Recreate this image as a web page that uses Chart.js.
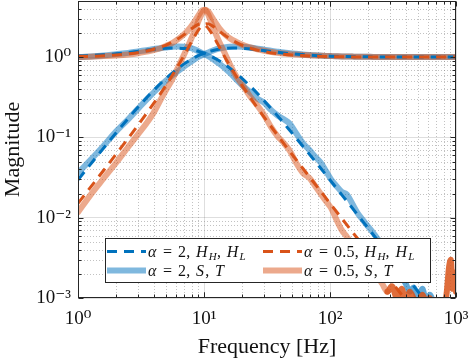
<!DOCTYPE html>
<html><head><meta charset="utf-8">
<script src="https://cdn.jsdelivr.net/npm/chart.js@4.4.0/dist/chart.umd.min.js"></script>
<style>html,body{margin:0;padding:0;background:#fff;}#wrap{width:471px;height:361px;}</style>
</head><body><div id="wrap"><canvas id="c" width="471" height="361"></canvas></div>
<script>
// ---- tick labels ----
const xTickValues = [1, 10, 100, 1000];
const xTickLabels = ['10⁰', '10¹', '10²', '10³'];
const yTickValues = [0.001, 0.01, 0.1, 1];
const yTickLabels = ['10⁻³', '10⁻²', '10⁻¹', '10⁰'];

// ---- model (dashed) curves ----
const freqModel = [1, 1.25, 1.6, 2, 2.5, 3.2, 4, 5, 6, 7, 8, 9, 9.5, 10, 10.5, 11, 12, 13, 15, 17, 20, 25, 32, 40, 50, 63, 80, 100, 125, 160, 200, 250, 320, 400, 500, 630, 800, 1000];
const hL_a2 = [1.029, 1.044, 1.068, 1.100, 1.141, 1.198, 1.250, 1.290, 1.298, 1.279, 1.238, 1.182, 1.151, 1.118, 1.084, 1.050, 0.980, 0.913, 0.787, 0.677, 0.544, 0.388, 0.256, 0.172, 0.113, 0.0729, 0.0458, 0.0296, 0.0190, 0.01165, 0.00747, 0.00479, 0.00293, 0.00187, 0.00120, 0.000756, 0.000469, 0.0003];
const hH_a2 = [0.0296, 0.0458, 0.0741, 0.1134, 0.1718, 0.2669, 0.3876, 0.5441, 0.6944, 0.8299, 0.9461, 1.0418, 1.0823, 1.118, 1.1495, 1.1768, 1.2208, 1.2524, 1.2881, 1.2989, 1.2900, 1.2503, 1.1919, 1.1413, 1.0996, 1.0670, 1.0434, 1.0286, 1.0186, 1.0115, 1.0074, 1.0048, 1.003, 1.0019, 1.0012, 1.0008, 1.0005, 1.0003];
const hL_a05 = [1.015, 1.0235, 1.0387, 1.0607, 1.0955, 1.1587, 1.2540, 1.4142, 1.6322, 1.9204, 2.2666, 2.5565, 2.6029, 2.5495, 2.4054, 2.2045, 1.7717, 1.4095, 0.9369, 0.6701, 0.4472, 0.2671, 0.1560, 0.0975, 0.0615, 0.0384, 0.0237, 0.0151, 0.00964, 0.00587, 0.00376, 0.00240, 0.00147, 0.00094, 0.0006, 0.00038, 0.00023, 0.00015];
const hH_a05 = [0.01509, 0.02366, 0.0390, 0.0615, 0.0975, 0.1641, 0.2671, 0.4472, 0.7056, 1.0742, 1.5787, 2.1561, 2.3959, 2.5495, 2.6026, 2.5716, 2.3800, 2.1576, 1.8162, 1.6030, 1.4142, 1.2540, 1.1511, 1.0955, 1.0607, 1.0381, 1.0235, 1.0150, 1.0096, 1.0059, 1.0037, 1.0024, 1.0015, 1.0009, 1.0006, 1.0004, 1.0002, 1.0002];

// ---- measured (solid) curves ----
const freqMeas = [1, 1.25, 1.6, 2, 2.5, 3, 3.5, 4, 4.5, 5, 5.6, 6.3, 7, 7.8, 8.5, 9.2, 9.7, 10.2, 10.8, 11.5, 12.3, 13.2, 14.5, 16, 18, 20, 23, 26, 30, 34, 38, 43, 48, 54, 61, 69, 76, 84, 93, 102, 112, 124, 136, 150, 165, 182, 200, 220, 240, 260, 285, 310, 340, 370, 400, 430, 460, 500, 540, 580, 620, 670, 720, 780, 840, 880, 910, 940, 970, 1000];
const T_a2 = [1.00, 1.02, 1.05, 1.09, 1.13, 1.18, 1.22, 1.26, 1.29, 1.32, 1.35, 1.36, 1.35, 1.30, 1.24, 1.17, 1.12, 1.08, 1.03, 0.97, 0.90, 0.83, 0.74, 0.64, 0.53, 0.45, 0.37, 0.31, 0.27, 0.22, 0.19, 0.168, 0.148, 0.112, 0.085, 0.069, 0.058, 0.049, 0.038, 0.030, 0.025, 0.021, 0.0195, 0.0150, 0.0115, 0.0094, 0.0078, 0.0065, 0.0054, 0.0045, 0.0037, 0.0030, 0.0024, 0.0019, 0.0015, 0.0012, 0.00135, 0.0010, 0.0013, 0.0009, 0.0011, 0.0008, 0.0007, 0.0006, 0.0005, 0.0005, 0.0004, 0.0004, 0.0004, 0.0004];
const S_a2 = [0.036, 0.052, 0.079, 0.118, 0.168, 0.228, 0.295, 0.365, 0.44, 0.51, 0.59, 0.68, 0.77, 0.87, 0.95, 1.02, 1.06, 1.10, 1.14, 1.19, 1.24, 1.28, 1.32, 1.35, 1.36, 1.35, 1.32, 1.28, 1.24, 1.20, 1.17, 1.14, 1.12, 1.10, 1.08, 1.065, 1.055, 1.045, 1.035, 1.03, 1.025, 1.02, 1.018, 1.015, 1.012, 1.01, 1.008, 1.006, 1.005, 1.004, 1.003, 1.003, 1.002, 1.002, 1.002, 1.001, 1.001, 1.001, 1.001, 1.001, 1.0, 1.0, 1.0, 1.0, 1.0, 1.0, 1.0, 1.0, 1.0, 1.0];
const T_a05 = [1.00, 1.01, 1.03, 1.05, 1.08, 1.12, 1.17, 1.22, 1.29, 1.38, 1.50, 1.70, 1.95, 2.35, 2.85, 3.45, 3.85, 3.90, 3.40, 2.60, 2.00, 1.55, 1.15, 0.82, 0.58, 0.46, 0.33, 0.26, 0.19, 0.135, 0.105, 0.085, 0.068, 0.048, 0.036, 0.031, 0.025, 0.020, 0.016, 0.0132, 0.0096, 0.0070, 0.0058, 0.0047, 0.0038, 0.0031, 0.0026, 0.0021, 0.0018, 0.0015, 0.0012, 0.0014, 0.0010, 0.0013, 0.0009, 0.0012, 0.0010, 0.0008, 0.0011, 0.0009, 0.0010, 0.0008, 0.0009, 0.0008, 0.0011, 0.0024, 0.0030, 0.0013, 0.0021, 0.0012];
const S_a05 = [0.0117, 0.019, 0.031, 0.048, 0.076, 0.11, 0.15, 0.205, 0.29, 0.39, 0.53, 0.78, 1.10, 1.60, 2.20, 3.00, 3.55, 3.85, 3.70, 3.20, 2.70, 2.30, 1.95, 1.72, 1.55, 1.43, 1.33, 1.26, 1.20, 1.16, 1.13, 1.11, 1.09, 1.075, 1.065, 1.055, 1.045, 1.04, 1.035, 1.03, 1.025, 1.02, 1.018, 1.015, 1.012, 1.01, 1.008, 1.006, 1.005, 1.004, 1.003, 1.003, 1.002, 1.002, 1.002, 1.001, 1.001, 1.001, 1.001, 1.001, 1.0, 1.0, 1.0, 1.0, 1.0, 1.0, 1.0, 1.0, 1.0, 1.0];

const SERIF = "'Liberation Serif', 'DejaVu Serif', serif";
const BLUE = '#0072BD', ORANGE = '#D95319';
const BLUE_T = 'rgba(0,114,189,0.5)', ORANGE_T = 'rgba(217,83,25,0.5)';
const toXY = (xs, ys) => xs.map((x, i) => ({x: x, y: ys[i]}));

function dashedDs(label, ys, color) {
  return {label, data: toXY(freqModel, ys), borderColor: color, borderWidth: 3, borderDash: [10, 7],
    borderCapStyle: 'butt', pointRadius: 0, fill: false, cubicInterpolationMode: 'monotone'};
}
function solidDs(label, ys, color, noiseColor, noiseFrom) {
  return {label, data: toXY(freqMeas, ys), borderColor: color, borderWidth: 6, borderJoinStyle: 'round',
    borderCapStyle: 'round', pointRadius: 0, fill: false, cubicInterpolationMode: 'monotone',
    segment: {borderColor: c => (noiseColor && c.p0.parsed.x >= noiseFrom) ? noiseColor : undefined}};
}

const datasets = [
  dashedDs('α = 0.5, H_H, H_L', hL_a05, ORANGE),
  dashedDs('', hH_a05, ORANGE),
  dashedDs('α = 2, H_H, H_L', hL_a2, BLUE),
  dashedDs('', hH_a2, BLUE),
  solidDs('α = 0.5, S, T', T_a05, ORANGE_T, 'rgba(217,83,25,0.85)', 280),
  solidDs('', S_a05, ORANGE_T),
  solidDs('α = 2, S, T', T_a2, BLUE_T, 'rgba(0,114,189,0.62)', 330),
  solidDs('', S_a2, BLUE_T)
];

// legend layout: [datasetIndex, column, row]
const legendOrder = [[2, 0, 0], [0, 1, 0], [6, 0, 1], [4, 1, 1]];

function drawRich(ctx, x, y, label, size) {
  let i = 0;
  while (i < label.length) {
    let ch = label[i], sub = false;
    if (ch === '_') { sub = true; i++; ch = label[i]; }
    const it = /[αHSTL]/.test(ch);
    const fs = sub ? Math.round(size * 0.7) : size;
    ctx.font = (it ? 'italic ' : '') + fs + 'px ' + SERIF;
    if (ch === ' ') { x += 5.5; i++; continue; }
    ctx.fillText(ch, x, sub ? y + 3.5 : y);
    x += ctx.measureText(ch).width + (it && !sub ? 1.2 : 0.3);
    i++;
  }
}

const matlabDeco = {
  id: 'matlabDeco',
  beforeDatasetsDraw(chart) {
    const {ctx, chartArea: a, scales: {x, y}} = chart;
    ctx.save();
    ctx.beginPath(); ctx.rect(a.left, a.top, a.right - a.left, a.bottom - a.top); ctx.clip();
    ctx.strokeStyle = 'rgba(120,120,120,0.45)'; ctx.lineWidth = 1; ctx.setLineDash([1, 2]);
    [1, 10, 100].forEach(d => { for (let k = 2; k <= 9; k++) {
      const px = Math.round(x.getPixelForValue(d * k)) + 0.5;
      ctx.beginPath(); ctx.moveTo(px, a.top); ctx.lineTo(px, a.bottom); ctx.stroke(); } });
    [0.001, 0.01, 0.1, 1].forEach(d => { for (let k = 2; k <= 9; k++) {
      if (d * k > 5) continue;
      const py = Math.round(y.getPixelForValue(d * k)) + 0.5;
      ctx.beginPath(); ctx.moveTo(a.left, py); ctx.lineTo(a.right, py); ctx.stroke(); } });
    ctx.restore();
  },
  afterDatasetsDraw(chart) {
    const {ctx, chartArea: a, scales: {x, y}} = chart;
    ctx.save();
    ctx.strokeStyle = '#262626'; ctx.lineWidth = 1;
    const L = a.left + 0.5, R = a.right - 0.5, T = a.top + 0.5, B = a.bottom - 0.5;
    ctx.strokeRect(L, T, R - L, B - T);
    const tick = (x1, y1, x2, y2) => { ctx.beginPath(); ctx.moveTo(x1, y1); ctx.lineTo(x2, y2); ctx.stroke(); };
    [1, 10, 100].forEach(d => { for (let k = 1; k <= 10; k++) {
      const px = Math.round(x.getPixelForValue(d * k)) + 0.5; const len = (k === 1 || k === 10) ? 5 : 3;
      tick(px, B, px, B - len); tick(px, T, px, T + len); } });
    [0.001, 0.01, 0.1, 1].forEach(d => { for (let k = 1; k <= 9; k++) {
      if (d * k > 5) continue;
      const py = Math.round(y.getPixelForValue(d * k)) + 0.5; const len = k === 1 ? 5 : 3;
      tick(L, py, L + len, py); tick(R, py, R - len, py); } });
    ctx.restore();
  },
  afterDraw(chart) {
    const {ctx, chartArea: a} = chart;
    const bx = a.left + 27, by = a.bottom - 60, bw = 325, bh = 44;
    ctx.save();
    ctx.fillStyle = '#fff'; ctx.fillRect(bx, by, bw, bh);
    ctx.strokeStyle = '#262626'; ctx.lineWidth = 1; ctx.strokeRect(bx + 0.5, by + 0.5, bw, bh);
    legendOrder.forEach(([di, col, row]) => {
      const ds = chart.data.datasets[di];
      const sx = bx + 2 + col * 156, sy = by + 13.5 + row * 19;
      ctx.strokeStyle = ds.borderColor; ctx.lineWidth = ds.borderWidth;
      ctx.setLineDash(ds.borderDash || []); ctx.lineCap = 'butt';
      ctx.beginPath(); ctx.moveTo(sx, sy); ctx.lineTo(sx + 39, sy); ctx.stroke();
      ctx.setLineDash([]);
      ctx.fillStyle = '#111'; ctx.textBaseline = 'alphabetic';
      drawRich(ctx, sx + 41, sy + 5, ds.label, 16);
    });
    ctx.restore();
  }
};

new Chart(document.getElementById('c'), {
  type: 'line',
  data: {datasets},
  plugins: [matlabDeco],
  options: {
    responsive: false, animation: false, devicePixelRatio: 1,
    layout: {padding: {left: 0, right: 15, top: 1, bottom: 0}},
    plugins: {legend: {display: false}, tooltip: {enabled: false}},
    elements: {line: {tension: 0}},
    scales: {
      x: {
        type: 'logarithmic', min: 1, max: 1000,
        afterBuildTicks: s => { s.ticks = xTickValues.map(v => ({value: v})); },
        afterFit: s => { s.height = 63; s.paddingLeft = 0; s.paddingRight = 0; },
        ticks: {autoSkip: false, maxRotation: 0, padding: 10, color: '#111',
          font: {family: SERIF, size: 19}, callback: (v, i) => xTickLabels[i]},
        grid: {color: 'rgba(0,0,0,0.13)', lineWidth: 1, drawTicks: false},
        border: {display: false},
        title: {display: true, text: 'Frequency [Hz]', color: '#111', font: {family: SERIF, size: 22}, padding: {top: 0, bottom: 1}}
      },
      y: {
        type: 'logarithmic', min: 0.001, max: 5,
        afterBuildTicks: s => { s.ticks = yTickValues.map(v => ({value: v})); },
        afterFit: s => { s.width = 78; s.paddingTop = 0; s.paddingBottom = 0; },
        ticks: {autoSkip: false, padding: 7, color: '#111',
          font: {family: SERIF, size: 19}, callback: (v, i) => yTickLabels[i]},
        grid: {color: 'rgba(0,0,0,0.13)', lineWidth: 1, drawTicks: false},
        border: {display: false},
        title: {display: true, text: 'Magnitude', color: '#111', font: {family: SERIF, size: 22}, padding: {top: 0, bottom: 0}}
      }
    }
  }
});
</script></body></html>
